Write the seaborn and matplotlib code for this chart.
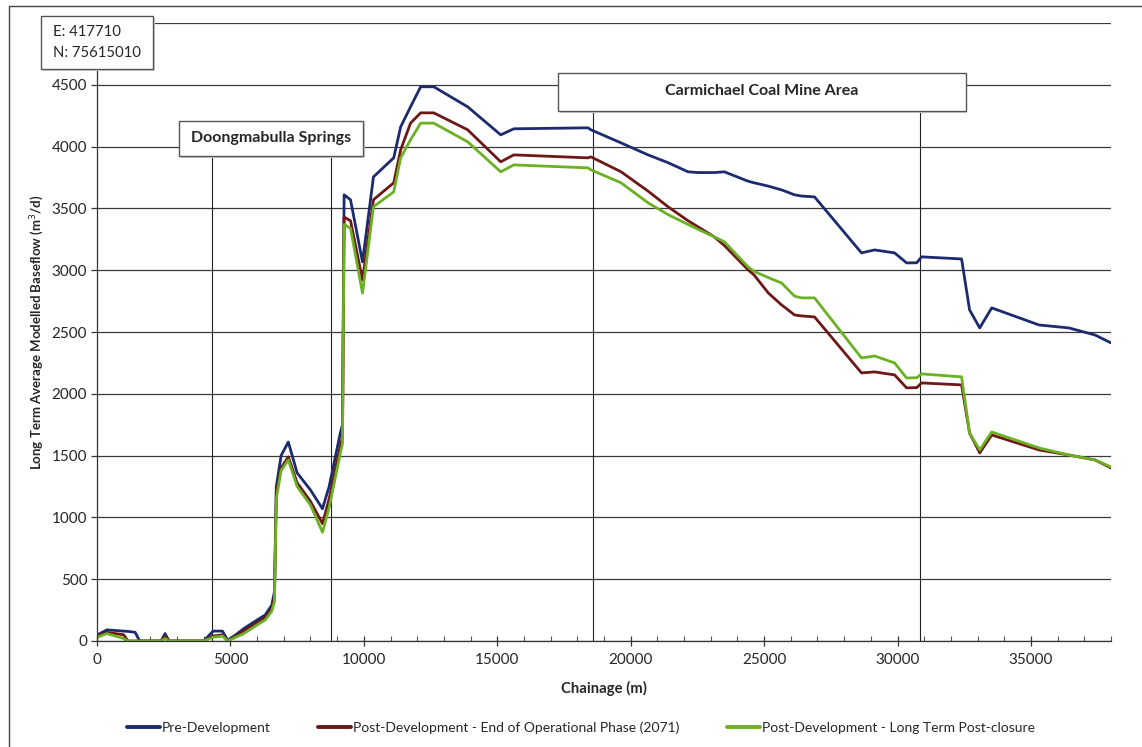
import matplotlib
matplotlib.use('Agg')
import matplotlib.pyplot as plt
import seaborn as sns
import numpy as np
import pandas as pd
from matplotlib.patches import Rectangle
from matplotlib.lines import Line2D

sns.set_style('white')
plt.rcParams['font.family'] = ['Lato', 'DejaVu Sans']

# chainage (m)
chainage = [0, 370, 1000, 1160, 1430, 1600, 2400, 2550, 2700, 4000, 4350, 4700, 4900,
            5200, 5500, 6000, 6300, 6550, 6650, 6720, 6900, 7170, 7500, 8000, 8450,
            8700, 9120, 9200, 9260, 9500, 9950, 10360, 11120, 11380, 11750, 12130,
            12620, 13890, 15130, 15620, 18400, 18510, 19640, 20650, 21400, 22150,
            22530, 23130, 23510, 24400, 24630, 25160, 25650, 26140, 26400, 26890,
            28650, 29140, 29890, 30340, 30720, 30900, 32400, 32700, 33080, 33530,
            35300, 36420, 37400, 38000]

pre_dev = [48, 90, 80, 78, 70, 0, 0, 60, 0, 0, 80, 80, 5,
           50, 100, 170, 210, 290, 400, 1250, 1500, 1610, 1360, 1222, 1070,
           1250, 1683, 1750, 3610, 3570, 3067, 3755, 3909, 4160, 4322, 4484,
           4484, 4322, 4095, 4144, 4152, 4136, 4030, 3933, 3870, 3796,
           3790, 3790, 3796, 3720, 3707, 3680, 3650, 3610, 3600, 3593,
           3140, 3164, 3140, 3059, 3060, 3108, 3091, 2679, 2533, 2695,
           2557, 2533, 2476, 2412]

post_op = [40, 70, 50, 0, 0, 0, 0, 40, 0, 0, 40, 50, 0,
           40, 80, 150, 190, 260, 350, 1200, 1400, 1490, 1280, 1130, 950,
           1150, 1580, 1650, 3430, 3400, 2920, 3570, 3707, 3974, 4190, 4273,
           4273, 4136, 3877, 3933, 3909, 3917, 3796, 3640, 3513, 3400,
           3350, 3270, 3200, 3003, 2960, 2815, 2720, 2638, 2630, 2622,
           2169, 2177, 2153, 2048, 2050, 2088, 2072, 1683, 1522, 1667,
           1546, 1505, 1465, 1400]

post_closure = [30, 60, 20, 0, 0, 0, 0, 20, 0, 0, 30, 40, 0,
                30, 60, 130, 170, 240, 320, 1150, 1380, 1465, 1250, 1100, 880,
                1080, 1520, 1600, 3370, 3340, 2815, 3513, 3634, 3909, 4055, 4190,
                4190, 4039, 3796, 3852, 3828, 3812, 3707, 3545, 3450, 3370,
                3330, 3270, 3230, 3027, 2990, 2940, 2897, 2790, 2776, 2776,
                2290, 2306, 2250, 2128, 2130, 2161, 2137, 1683, 1546, 1691,
                1562, 1505, 1465, 1408]

scenarios = ['Pre-Development',
             'Post-Development - End of Operational Phase (2071)',
             'Post-Development - Long Term Post-closure']
colors = ['#1c2a6e', '#6e1717', '#6cb024']

# annotation line positions (chainage)
springs_lines = [4318, 8787]
mine_lines = [18588, 30830]

df = pd.DataFrame({
    'chainage': chainage * 3,
    'flow': pre_dev + post_op + post_closure,
    'scenario': np.repeat(scenarios, len(chainage)),
})

W, H = 1142, 747
fig = plt.figure(figsize=(W / 100, H / 100), dpi=100)
ax = fig.add_axes([97 / W, 1 - 641 / H, (1111 - 97) / W, (641 - 23) / H])

sns.lineplot(data=df, x='chainage', y='flow', hue='scenario', palette=colors,
             estimator=None, sort=False, linewidth=2.0, ax=ax, legend=False)

ax.set_xlim(0, 38000)
ax.set_ylim(0, 5000)
ax.set_xticks(np.arange(0, 38001, 5000))
ax.set_xticks(np.arange(0, 38001, 1000), minor=True)
ax.set_yticks(np.arange(0, 5001, 500))
ax.set_yticklabels([str(v) if v < 5000 else '' for v in range(0, 5001, 500)])
ax.yaxis.grid(True, color='#3a3a3a', linewidth=0.9)
ax.xaxis.grid(False)
ax.set_axisbelow(True)
for s in ['top', 'right']:
    ax.spines[s].set_visible(False)
for s in ['left', 'bottom']:
    ax.spines[s].set_color('#333333')
    ax.spines[s].set_linewidth(0.9)
ax.tick_params(axis='x', which='major', direction='inout', length=7, width=0.9,
               color='#333333', labelsize=11, pad=5, bottom=True)
ax.tick_params(axis='x', which='minor', direction='in', length=3.5, width=0.8,
               color='#555555', bottom=True)
ax.tick_params(axis='y', which='major', direction='out', length=4, width=0.9,
               color='#333333', labelsize=11, pad=3, left=True)

ax.set_xlabel('Chainage (m)', fontsize=10.7, fontweight='bold')
ax.xaxis.set_label_coords(0.5, -0.064)
ax.set_ylabel('Long Term Average Modelled Baseflow (m$^3$/d)', fontsize=9.5,
              fontweight='bold')
ax.yaxis.set_label_coords(-0.050, 0.5)

# annotation drop lines
ax.vlines(springs_lines, 0, (641 - 156) / 0.12356, color='#222222', linewidth=0.8, zorder=1)
ax.vlines(mine_lines, 0, (641 - 111) / 0.12356, color='#222222', linewidth=0.8, zorder=1)


def fig_box(x0, y0, x1, y1):
    r = Rectangle((x0 / W, 1 - y1 / H), (x1 - x0) / W, (y1 - y0) / H,
                  transform=fig.transFigure, facecolor='white',
                  edgecolor='#555555', linewidth=1.0, zorder=10)
    fig.add_artist(r)
    sh = Rectangle(((x0 + 1.5) / W, 1 - (y1 + 1.5) / H), (x1 - x0) / W, (y1 - y0) / H,
                   transform=fig.transFigure, facecolor='#d0d0d0',
                   edgecolor='none', zorder=9)
    fig.add_artist(sh)


fig_box(41, 16, 153, 69)
fig.text(53 / W, 1 - 32 / H, 'E: 417710', fontsize=10.7, va='center', ha='left', zorder=11)
fig.text(53 / W, 1 - 53 / H, 'N: 75615010', fontsize=10.7, va='center', ha='left', zorder=11)

fig_box(179, 121, 363, 156)
fig.text(271 / W, 1 - 138 / H, 'Doongmabulla Springs', fontsize=11.5, fontweight='bold',
         va='center', ha='center', zorder=11)

fig_box(558, 73, 966, 111)
fig.text(762 / W, 1 - 91 / H, 'Carmichael Coal Mine Area', fontsize=11.5, fontweight='bold',
         va='center', ha='center', zorder=11)

# outer frame
fig.add_artist(Line2D([9 / W, 9 / W], [0, 1 - 6 / H], transform=fig.transFigure,
                      color='#444444', linewidth=1.0))
fig.add_artist(Line2D([9 / W, 1], [1 - 6 / H, 1 - 6 / H], transform=fig.transFigure,
                      color='#444444', linewidth=1.0))

handles = [Line2D([], [], color=c, linewidth=2.8) for c in colors]
fig.legend(handles, scenarios, loc='center', bbox_to_anchor=(581 / W, 1 - 728 / H),
           ncol=3, frameon=False, fontsize=10, handlelength=2.4, handletextpad=0.15,
           columnspacing=3.4)

fig.savefig('out.png', dpi=100)
